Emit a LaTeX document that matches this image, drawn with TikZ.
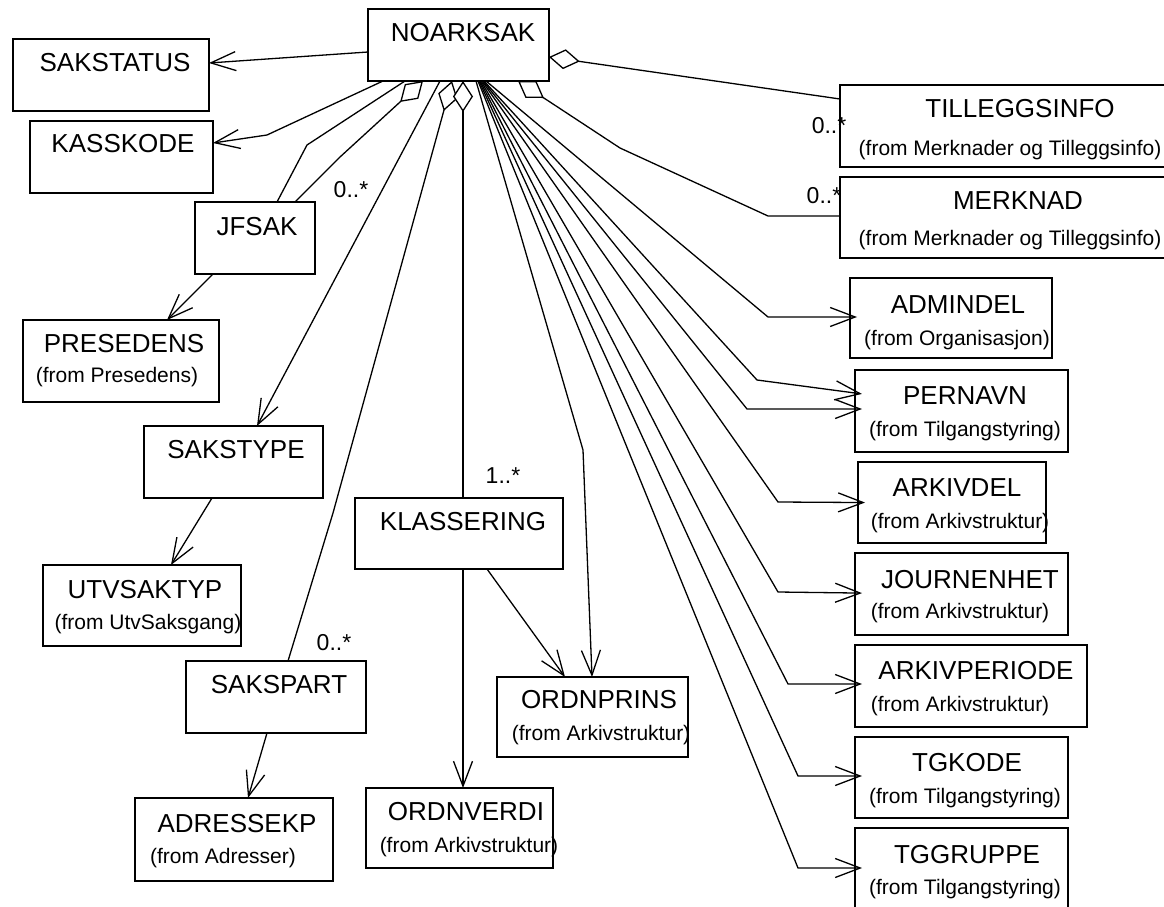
\documentclass[tikz,border=0pt]{standalone}
\usepackage{fontspec}
\setmainfont{Liberation Sans}
\usetikzlibrary{arrows.meta,calc}
\tikzset{
 umlbox/.style={draw, line width=2pt, inner sep=0pt, outer sep=0pt},
 ttl/.style={inner sep=0pt, anchor=base, font=\fontsize{26}{30}\selectfont},
 subtxt/.style={inner sep=0pt, anchor=base, font=\fontsize{21}{25}\selectfont},
 mult/.style={inner sep=0pt, anchor=base, font=\fontsize{23}{27}\selectfont},
 conn/.style={line width=1.3pt},
 nav/.style={conn, -{Straight Barb[length=25pt,width=19pt,line width=1.3pt]}},
 navr/.style={nav, shorten >=-7pt},
 agg/.style={conn, {Diamond[fill=white,length=31pt,width=20pt,line width=1.3pt]}-},
}
\begin{document}
\begin{tikzpicture}[x=1pt,y=-1pt]
\fill[white] (0,0) rectangle (1164,907);
\useasboundingbox (0,0) rectangle (1164,907);

% boxes
\node[umlbox, minimum width=181pt, minimum height=72pt] (noarksak) at (458.5,45) {};
\node[umlbox, minimum width=196pt, minimum height=72pt] (sakstatus) at (111,75) {};
\node[umlbox, minimum width=183pt, minimum height=72pt] (kasskode) at (121.5,157) {};
\node[umlbox, minimum width=120pt, minimum height=72pt] (jfsak) at (255,238) {};
\node[umlbox, minimum width=196pt, minimum height=82pt] (presedens) at (121,361) {};
\node[umlbox, minimum width=179pt, minimum height=72pt] (sakstype) at (233.5,462) {};
\node[umlbox, minimum width=198pt, minimum height=81pt] (utvsaktyp) at (142,605.5) {};
\node[umlbox, minimum width=180pt, minimum height=72pt] (sakspart) at (276,697) {};
\node[umlbox, minimum width=198pt, minimum height=83pt] (adressekp) at (234,839.5) {};
\node[umlbox, minimum width=208pt, minimum height=71pt] (klassering) at (459,533.5) {};
\node[umlbox, minimum width=191pt, minimum height=80pt] (ordnprins) at (592.5,717) {};
\node[umlbox, minimum width=187pt, minimum height=80pt] (ordnverdi) at (459.5,828) {};
\node[umlbox, minimum width=335pt, minimum height=82pt] (tilleggsinfo) at (1007.5,126) {};
\node[umlbox, minimum width=335pt, minimum height=81pt] (merknad) at (1007.5,217.5) {};
\node[umlbox, minimum width=202pt, minimum height=80pt] (admindel) at (951,318) {};
\node[umlbox, minimum width=213pt, minimum height=82pt] (pernavn) at (961.5,411) {};
\node[umlbox, minimum width=188pt, minimum height=81pt] (arkivdel) at (952,502.5) {};
\node[umlbox, minimum width=213pt, minimum height=82pt] (journenhet) at (961.5,594) {};
\node[umlbox, minimum width=232pt, minimum height=82pt] (arkivperiode) at (971,686) {};
\node[umlbox, minimum width=213pt, minimum height=81pt] (tgkode) at (961.5,777.5) {};
\node[umlbox, minimum width=213pt, minimum height=84pt] (tggruppe) at (961.5,870) {};

% texts
\node[ttl] (t-noarksak) at (463,42) {NOARKSAK};
\node[ttl] (t-sakstatus) at (115,71) {SAKSTATUS};
\node[ttl] (t-kasskode) at (123,152) {KASSKODE};
\node[ttl] (t-jfsak) at (257,235) {JFSAK};
\node[ttl] (t-presedens) at (124,352) {PRESEDENS};
\node[subtxt] (s-presedens) at (117,382) {(from Presedens)};
\node[ttl] (t-sakstype) at (236,458) {SAKSTYPE};
\node[ttl] (t-utvsaktyp) at (145,598) {UTVSAKTYP};
\node[subtxt] (s-utvsaktyp) at (148,629) {(from UtvSaksgang)};
\node[ttl] (t-sakspart) at (279,693) {SAKSPART};
\node[ttl] (t-adressekp) at (237,832) {ADRESSEKP};
\node[subtxt] (s-adressekp) at (223,863) {(from Adresser)};
\node[ttl] (t-klassering) at (463,530) {KLASSERING};
\node[ttl] (t-ordnprins) at (599,708) {ORDNPRINS};
\node[subtxt] (s-ordnprins) at (601,740) {(from Arkivstruktur)};
\node[ttl] (t-ordnverdi) at (466,820) {ORDNVERDI};
\node[subtxt] (s-ordnverdi) at (469,852) {(from Arkivstruktur)};
\node[ttl] (t-tilleggsinfo) at (1020,117) {TILLEGGSINFO};
\node[subtxt] (s-tilleggsinfo) at (1010,155) {(from Merknader og Tilleggsinfo)};
\node[ttl] (t-merknad) at (1018,209) {MERKNAD};
\node[subtxt] (s-merknad) at (1010,245) {(from Merknader og Tilleggsinfo)};
\node[ttl] (t-admindel) at (958,313) {ADMINDEL};
\node[subtxt] (s-admindel) at (957,345) {(from Organisasjon)};
\node[ttl] (t-pernavn) at (965,404) {PERNAVN};
\node[subtxt] (s-pernavn) at (965,436) {(from Tilgangstyring)};
\node[ttl] (t-arkivdel) at (957,496) {ARKIVDEL};
\node[subtxt] (s-arkivdel) at (960,528) {(from Arkivstruktur)};
\node[ttl] (t-journenhet) at (970,588) {JOURNENHET};
\node[subtxt] (s-journenhet) at (960,618) {(from Arkivstruktur)};
\node[ttl] (t-arkivperiode) at (976,679) {ARKIVPERIODE};
\node[subtxt] (s-arkivperiode) at (960,711) {(from Arkivstruktur)};
\node[ttl] (t-tgkode) at (967,771) {TGKODE};
\node[subtxt] (s-tgkode) at (965,803) {(from Tilgangstyring)};
\node[ttl] (t-tggruppe) at (967,863) {TGGRUPPE};
\node[subtxt] (s-tggruppe) at (965,894) {(from Tilgangstyring)};

% multiplicities
\node[mult] (m-jfsak) at (351,197) {0..*};
\node[mult] (m-sakspart) at (334,650) {0..*};
\node[mult] (m-klassering) at (503,483) {1..*};
\node[mult] (m-tilleggsinfo) at (829,133) {0..*};
\node[mult] (m-merknad) at (824,203) {0..*};

% connectors, left side
\draw[nav] ($(noarksak.north west)+(0,43)$) -- ($(sakstatus.north east)+(0,24)$);
\draw[nav] ($(noarksak.south west)+(15,0)$) -- (267,135) -- ($(kasskode.north east)+(0,22)$);
\draw[conn] ($(jfsak.north west)+(82,0)$) -- (307,145) -- ($(noarksak.south west)+(37,0)$);
\draw[agg] ($(noarksak.south west)+(55,0)$) -- (340,157) -- ($(jfsak.north west)+(100,0)$);
\draw[nav] ($(jfsak.south west)+(18,0)$) -- ($(presedens.north west)+(144,0)$);
\draw[nav] ($(noarksak.south west)+(72,0)$) -- ($(sakstype.north west)+(113,0)$);
\draw[nav] ($(sakstype.south west)+(68,0)$) -- ($(utvsaktyp.north west)+(128,0)$);
\draw[agg] ($(noarksak.south west)+(84,0)$) -- (333,513) -- ($(sakspart.north west)+(102,0)$);
\draw[nav] ($(sakspart.south west)+(81,0)$) -- ($(adressekp.north west)+(113,0)$);

% centre
\draw[agg] ($(noarksak.south west)+(95,0)$) -- ($(klassering.north west)+(108,0)$);
\draw[nav] ($(klassering.south west)+(108,0)$) -- ($(ordnverdi.north west)+(97,0)$);
\draw[nav] ($(klassering.south west)+(132,0)$) -- ($(ordnprins.north west)+(68,0)$);
\draw[nav] ($(noarksak.south west)+(108,0)$) -- (583,450) -- ($(ordnprins.north west)+(95,0)$);

% right side
\draw[agg] ($(noarksak.north east)+(0,48)$) -- ($(tilleggsinfo.north west)+(0,14)$);
\draw[agg] ($(noarksak.south west)+(150,0)$) -- (620,148) -- (768,216) -- ($(merknad.north west)+(0,39)$);
\draw[navr] ($(noarksak.south west)+(118,0)$) -- (768,317) -- ($(admindel.north west)+(0,39)$);
\draw[navr] ($(noarksak.south west)+(116,0)$) -- (757,380) -- ($(pernavn.north west)+(0,23)$);
\draw[navr] ($(noarksak.south west)+(115,0)$) -- (747,409) -- ($(pernavn.north west)+(0,39)$);
\draw[navr] ($(noarksak.south west)+(114,0)$) -- (778,502) -- (arkivdel.west);
\draw[navr] ($(noarksak.south west)+(113,0)$) -- (778,592) -- ($(journenhet.north west)+(0,40)$);
\draw[navr] ($(noarksak.south west)+(112,0)$) -- (788,684) -- ($(arkivperiode.north west)+(0,39)$);
\draw[navr] ($(noarksak.south west)+(111,0)$) -- (798,776) -- ($(tgkode.north west)+(0,39)$);
\draw[navr] ($(noarksak.south west)+(110,0)$) -- (798,868) -- ($(tggruppe.north west)+(0,40)$);
\end{tikzpicture}
\end{document}
